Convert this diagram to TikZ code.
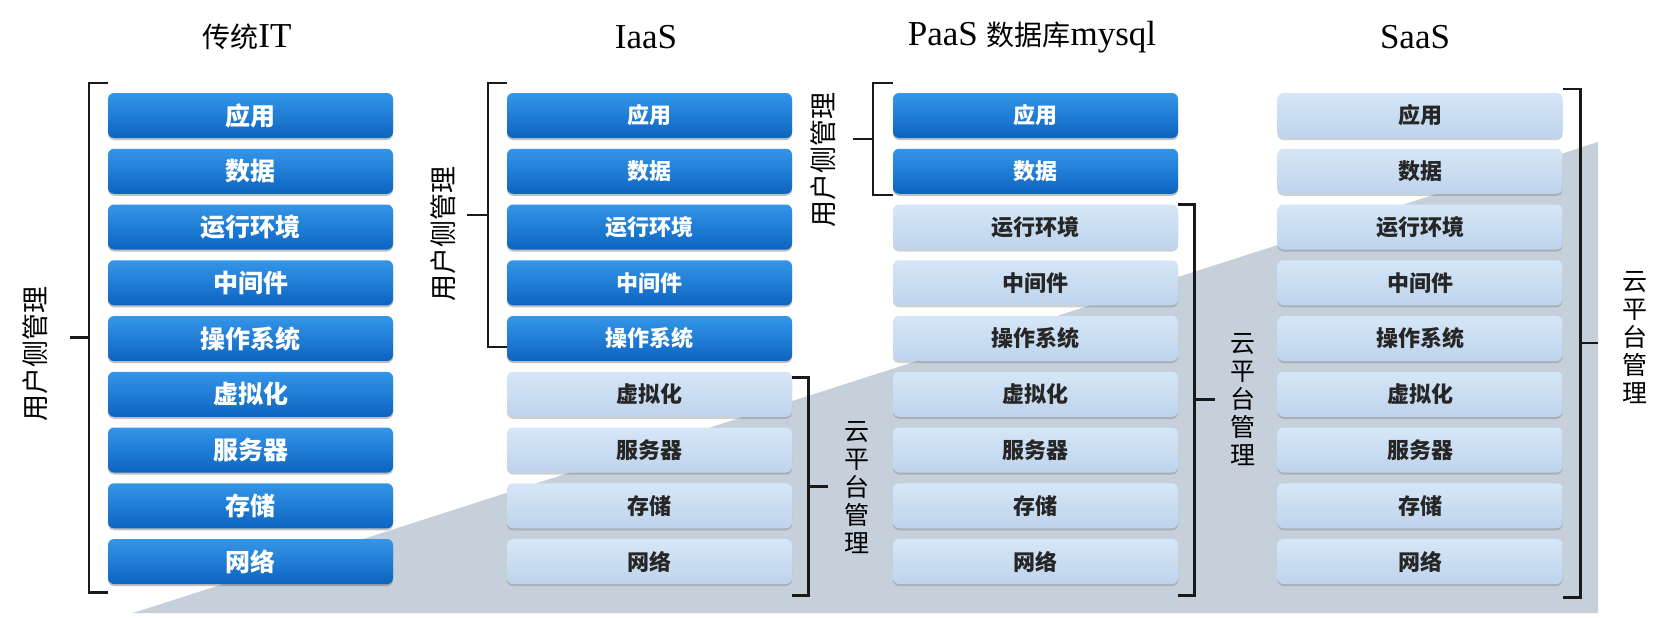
\documentclass[tikz,border=0pt]{standalone}
\usepackage{fontspec}
\setmainfont{Liberation Serif}
\newfontfamily\cjk{Noto Sans CJK SC}
\usepackage{tikz}
\usetikzlibrary{shadows, calc}
\definecolor{slopegray}{RGB}{197,208,219}
\definecolor{darktop}{RGB}{52,150,232}
\definecolor{darkbot}{RGB}{12,100,192}
\definecolor{lighttop}{RGB}{213,230,247}
\definecolor{lightbot}{RGB}{190,212,236}
\tikzset{
    box/.style={rounded corners=6pt, minimum width=285pt, minimum height=45pt, inner sep=0pt,
        font=\cjk\bfseries\fontsize{22}{26}\selectfont},
    dark/.style={style=box, top color=darktop, bottom color=darkbot, text=white,
        drop shadow={shadow xshift=0pt, shadow yshift=-2pt, opacity=.35, fill=black!70}},
    light/.style={style=box, top color=lighttop, bottom color=lightbot, text=black!85,
        drop shadow={shadow xshift=0pt, shadow yshift=-2pt, opacity=.3, fill=black!60}},
    big/.style={font=\cjk\bfseries\fontsize{25}{28}\selectfont},
    br/.style={line width=2.6pt, draw=black!90},
    side/.style={rotate=90, inner sep=0pt, font=\cjk\fontsize{27}{28}\selectfont}, % rotated labels
    stack/.style={align=center, inner sep=0pt, font=\cjk\fontsize{25}{28}\selectfont}, % upright column labels
    ttl/.style={inner sep=0pt, font=\fontsize{35}{40}\selectfont}
}
\newcommand{\tcjk}[1]{{\cjk\fontsize{28}{30}\selectfont #1}}

\begin{document}
\begin{tikzpicture}[x=1pt, y=-1pt]
        \fill[white] (0,0) rectangle (1665,618);
        \useasboundingbox (0,0) rectangle (1665,618);
        \fill[slopegray] (133,613) -- (1598,142) -- (1598,613) -- cycle;

        % titles
        \node[ttl] (t1) at (247,37) {\tcjk{传统}IT};
        \node[ttl] (t2) at (646,37) {IaaS};
        \node[ttl] (t3) at (1032,37) {PaaS \tcjk{数据库}mysql};
        \node[ttl] (t4) at (1415,37) {SaaS};

        % columns of layers
        \foreach \lab [count=\i] in {应用,数据,运行环境,中间件,操作系统,虚拟化,服务器,存储,网络}
            \node[dark, big] (c1-\i) at (250.5, {115.5+55.75*(\i-1)}) {\lab};
        \foreach \col/\x/\k in {2/649.5/6, 3/1035.5/3, 4/1420/1}
            \foreach \lab [count=\i] in {应用,数据,运行环境,中间件,操作系统,虚拟化,服务器,存储,网络} {
                \ifnum\i<\k
                    \node[dark] (c\col-\i) at (\x, {115.5+55.75*(\i-1)}) {\lab};
                \else
                    \node[light] (c\col-\i) at (\x, {115.5+55.75*(\i-1)}) {\lab};
                \fi
            };

        % brackets
        \coordinate (u1t) at ([yshift=10pt]c1-1.north west);
        \coordinate (u1b) at ([yshift=-8pt]c1-9.south west);
        \draw[br] (u1t) -- ++(-19,0) |- (u1b);
        \coordinate (u1m) at ($(u1t)!.5!(u1b)+(-19,0)$);
        \draw[br] (u1m) -- ++(-19,0) coordinate (u1e);
        \node[side] (s1) at ($(u1e)+(-35,16)$) {用户侧管理};

        \coordinate (u2t) at ([yshift=10pt]c2-1.north west);
        \coordinate (u2b) at ([yshift=-8.5pt]c2-5.west);
        \draw[br] (u2t) -- ++(-19,0) |- (u2b);
        \coordinate (u2m) at ($(u2t)!.5!(u2b)+(-19,0)$);
        \draw[br] (u2m) -- ++(-21,0) coordinate (u2e);
        \node[side] (s2) at ($(u2e)+(-24,19)$) {用户侧管理};

        \coordinate (p2t) at ([yshift=-6pt]c2-6.north east);
        \coordinate (p2b) at ([yshift=-11pt]c2-9.south east);
        \draw[br] (p2t) -- ++(16,0) |- (p2b);
        \coordinate (p2m) at ($(p2t)!.5!(p2b)+(16,0)$);
        \draw[br] (p2m) -- ++(20,0) coordinate (p2e);
        \node[stack] (s3) at ($(p2e)+(29,1)$) {云\\平\\台\\管\\理};

        \coordinate (u3t) at ([yshift=10pt]c3-1.north west);
        \coordinate (u3b) at ([yshift=-1pt]c3-2.south west);
        \draw[br] (u3t) -- ++(-20,0) |- (u3b);
        \coordinate (u3m) at ($(u3t)!.5!(u3b)+(-20,0)$);
        \draw[br] (u3m) -- ++(-20,0) coordinate (u3e);
        \node[side] (s4) at ($(u3e)+(-30,21)$) {用户侧管理};

        \coordinate (p3t) at (c3-3.north east);
        \coordinate (p3b) at ([yshift=-11pt]c3-9.south east);
        \draw[br] (p3t) -- ++(16,0) |- (p3b);
        \coordinate (p3m) at ($(p3t)!.5!(p3b)+(16,0)$);
        \draw[br] (p3m) -- ++(21,0) coordinate (p3e);
        \node[stack] (s5) at ($(p3e)+(28,0)$) {云\\平\\台\\管\\理};

        \coordinate (p4t) at ([yshift=4pt]c4-1.north east);
        \coordinate (p4b) at ([yshift=-13pt]c4-9.south east);
        \draw[br] (p4t) -- ++(17.5,0) |- (p4b);
        \coordinate (p4m) at ($(p4t)!.5!(p4b)+(17.5,0)$);
        \draw[br] (p4m) -- ++(18,0) coordinate (p4e);
        \node[stack] (s6) at ($(p4e)+(37,-5)$) {云\\平\\台\\管\\理};
\end{tikzpicture}
\end{document}
